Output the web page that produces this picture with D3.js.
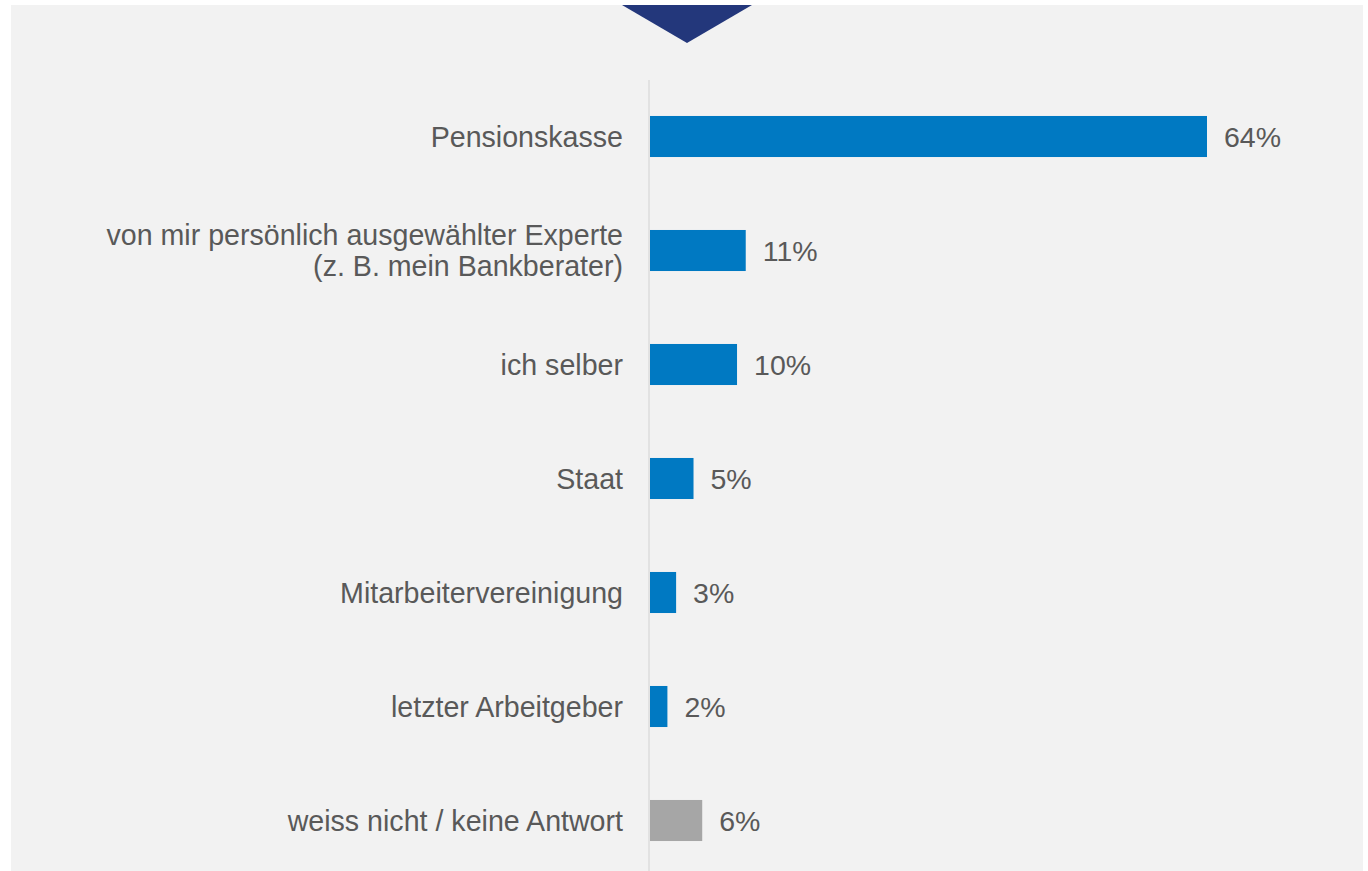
<!DOCTYPE html>
<html>
<head>
<meta charset="utf-8">
<script src="https://cdn.jsdelivr.net/npm/d3@7/dist/d3.min.js"></script>
<style>
  html, body { margin: 0; padding: 0; background: #ffffff; }
  svg { display: block; }
  text { font-family: "Liberation Sans", Arial, Helvetica, sans-serif; }
</style>
</head>
<body>
<svg id="chart" width="1368" height="871"></svg>
<script>
// Survey answers and their shares (percent)
const categories = [
  "Pensionskasse",
  "von mir persönlich ausgewählter Experte|(z. B. mein Bankberater)",
  "ich selber",
  "Staat",
  "Mitarbeitervereinigung",
  "letzter Arbeitgeber",
  "weiss nicht / keine Antwort"
];
const values = [64, 11, 10, 5, 3, 2, 6];
const neutral = [false, false, false, false, false, false, true];

const svg = d3.select("#chart");
const W = 1368, H = 871;

// Panel background
svg.append("rect")
  .attr("x", 11).attr("y", 5)
  .attr("width", W - 16).attr("height", H - 5)
  .attr("fill", "#f2f2f2");

// Marker triangle at the top
svg.append("polygon")
  .attr("points", "622,5 752,5 687,43")
  .attr("fill", "#23377b");

const x = d3.scaleLinear().domain([0, 64]).range([650, 1207]);
const y = d3.scaleBand()
  .domain(categories)
  .range([79.5, 877.5])
  .paddingInner(0.64)
  .paddingOuter(0.32);

// Baseline
svg.append("line")
  .attr("x1", 649).attr("x2", 649)
  .attr("y1", 80).attr("y2", H)
  .attr("stroke", "#e2e2e2")
  .attr("stroke-width", 2);

const rows = categories.map((c, i) => ({ cat: c, value: values[i], neutral: neutral[i] }));

// Bars
svg.selectAll("rect.bar")
  .data(rows)
  .join("rect")
  .attr("class", "bar")
  .attr("x", x(0))
  .attr("y", d => y(d.cat))
  .attr("width", d => x(d.value) - x(0))
  .attr("height", y.bandwidth())
  .attr("fill", d => d.neutral ? "#a6a6a6" : "#0079c2");

// Value labels
svg.selectAll("text.val")
  .data(rows)
  .join("text")
  .attr("class", "val")
  .attr("x", d => x(d.value) + 17)
  .attr("y", d => y(d.cat) + y.bandwidth() / 2)
  .attr("dy", "0.37em")
  .attr("font-size", 28.5)
  .attr("fill", "#595959")
  .text(d => d.value + "%");

// Category labels (multi-line where "|" splits)
const lineH = 31;
svg.selectAll("text.cat")
  .data(rows)
  .join("text")
  .attr("class", "cat")
  .attr("text-anchor", "end")
  .attr("font-size", 28.6)
  .attr("fill", "#595959")
  .each(function(d) {
    const parts = d.cat.split("|");
    const cy = y(d.cat) + y.bandwidth() / 2;
    const t = d3.select(this);
    parts.forEach((p, j) => {
      t.append("tspan")
        .attr("x", 623)
        .attr("y", cy + (j - (parts.length - 1) / 2) * lineH)
        .attr("dy", "0.36em")
        .text(p);
    });
  });
</script>
</body>
</html>
